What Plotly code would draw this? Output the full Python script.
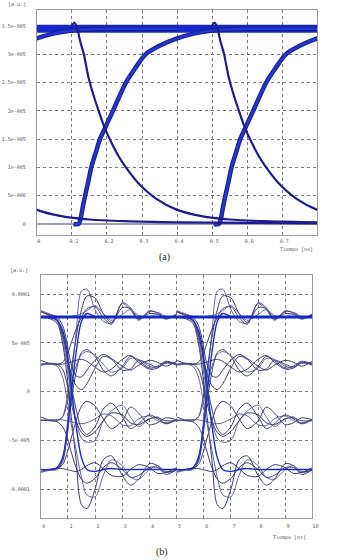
import numpy as np
import plotly.graph_objects as go

# ---------------- Chart (a): eye diagram, values in 1e-5 a.u. ----------------
a_period_offsets = [-0.4, 0.0, 0.4]          # ns, eye folding period 0.4 ns
a_fall_t = [0.095, 0.107, 0.115, 0.124, 0.134, 0.147, 0.163, 0.178, 0.194, 0.212,
            0.232, 0.254, 0.287, 0.34, 0.40, 0.47, 0.55, 0.65, 0.8, 1.0, 1.2]
a_fall_v = [3.45, 3.56, 3.46, 3.22, 3.0, 2.6, 2.25, 1.97, 1.69, 1.45,
            1.21, 1.0, 0.74, 0.45, 0.25, 0.14, 0.08, 0.05, 0.03, 0.02, 0.01]
a_rise_t = [0.105, 0.119, 0.125, 0.131, 0.138, 0.147, 0.156, 0.168, 0.18, 0.194,
            0.217, 0.235, 0.254, 0.28, 0.31, 0.35, 0.40, 0.45, 0.5, 0.6, 0.7, 0.8]
a_rise_v = [0.0, 0.0, 0.1, 0.3, 0.51, 0.76, 1.02, 1.26, 1.5, 1.69,
            2.0, 2.25, 2.5, 2.75, 3.0, 3.15, 3.28, 3.37, 3.42, 3.45, 3.45, 3.45]
a_high_t = [0.0, 0.8]
a_high_v = [3.45, 3.45]
a_scale = 1e-5
a_ytick_vals = [0, 5e-6, 1e-5, 1.5e-5, 2e-5, 2.5e-5, 3e-5, 3.5e-5]
a_ytick_text = ["0", "5e-006", "1e-005", "1.5e-005", "2e-005", "2.5e-005", "3e-005", "3.5e-005"]
a_xtick_vals = [0, 0.1, 0.2, 0.3, 0.4, 0.5, 0.6, 0.7]
a_xtick_text = ["0", "0.1", "0.2", "0.3", "0.4", "0.5", "0.6", "0.7"]

# ---------------- Chart (b): eye diagram, values in 1e-5 a.u. ----------------
b_period_offsets = [0.0, 5.0]                # ns, eye folding period 5 ns
b_t = [0.0, 0.3, 0.6, 0.8, 0.95, 1.1, 1.3, 1.5, 1.7, 2.0, 2.3, 2.6, 3.0, 3.3, 3.6, 4.0, 4.3, 4.6, 5.0]
b_scale = 1e-5
# arrivals at top level
b_BT_big = [-8.3, -8.1, -8.0, -7.0, -4.0, 0.5, 6.0, 10.3, 10.5, 8.4, 7.2, 7.0, 9.0, 8.4, 7.3, 8.3, 8.0, 7.4, 8.0]
b_DT = [-2.6, -2.9, -3.0, -2.6, -1.0, 1.8, 5.5, 8.4, 9.8, 9.6, 8.0, 7.1, 8.6, 8.5, 7.5, 8.0, 7.9, 7.6, 7.8]
b_UT = [3.2, 2.9, 2.8, 3.0, 3.6, 4.8, 6.4, 7.6, 8.5, 8.7, 7.6, 6.9, 9.1, 8.6, 7.4, 8.2, 8.1, 7.5, 7.9]
b_TT_ring = [8.3, 8.0, 7.7, 7.6, 7.6, 7.7, 7.8, 8.0, 8.3, 8.8, 8.0, 7.3, 7.9, 8.4, 7.8, 7.6, 8.1, 7.7, 7.6]
# arrivals at upper-middle level
b_TU = [7.7, 7.6, 7.3, 6.0, 4.0, 2.0, 0.6, 0.2, 0.8, 2.4, 3.6, 3.3, 2.2, 2.3, 3.2, 2.8, 2.5, 2.9, 2.8]
b_BU = [-8.0, -8.0, -7.9, -7.2, -5.0, -1.5, 2.0, 4.0, 4.3, 3.6, 2.2, 1.6, 2.6, 3.6, 3.2, 2.4, 2.6, 3.1, 2.8]
b_DU = [-3.0, -2.9, -2.9, -2.6, -1.5, 0.5, 2.6, 3.8, 4.1, 3.7, 2.8, 2.0, 2.4, 3.4, 3.3, 2.6, 2.5, 3.0, 2.9]
b_UU = [2.7, 2.8, 2.8, 2.8, 2.9, 3.0, 3.2, 3.3, 3.1, 2.5, 2.0, 2.3, 3.3, 3.7, 3.0, 2.3, 2.4, 3.0, 2.7]
b_TU2 = [8.2, 7.9, 7.6, 6.8, 5.2, 3.0, 1.6, 1.5, 2.2, 3.2, 3.8, 3.4, 2.6, 2.2, 2.7, 3.2, 3.0, 2.6, 3.1]
# arrivals at lower-middle level
b_TD = [7.6, 7.6, 7.2, 5.5, 3.0, 0.0, -3.0, -4.8, -5.2, -5.0, -3.0, -2.0, -1.4, -2.6, -3.6, -2.8, -2.6, -3.3, -2.9]
b_BD = [-8.0, -8.0, -7.9, -7.5, -6.5, -5.0, -3.0, -1.5, -1.0, -1.5, -2.8, -3.8, -3.0, -1.6, -2.2, -3.4, -3.2, -2.7, -2.9]
b_UD = [2.8, 2.9, 2.8, 2.3, 1.0, -1.0, -3.0, -4.2, -4.6, -4.1, -3.0, -2.2, -2.4, -3.2, -3.4, -2.8, -2.7, -3.0, -3.0]
b_DD = [-3.0, -2.9, -2.9, -2.9, -3.0, -3.1, -3.2, -3.3, -3.2, -2.8, -2.3, -2.5, -3.4, -3.5, -2.8, -2.5, -3.0, -3.2, -2.9]
b_TD2 = [8.2, 7.8, 7.4, 5.8, 3.8, 1.0, -1.8, -3.8, -4.4, -3.6, -1.8, -1.2, -2.6, -3.8, -3.3, -2.4, -2.8, -3.3, -2.8]
# arrivals at bottom level
b_TB_big = [7.6, 7.5, 7.0, 5.0, 2.0, -2.0, -7.0, -11.6, -12.0, -10.0, -7.0, -6.6, -8.6, -9.6, -9.0, -7.4, -7.6, -8.5, -8.0]
b_UB = [2.8, 2.8, 2.6, 1.5, -0.5, -3.0, -6.0, -8.8, -10.6, -10.8, -8.6, -7.0, -7.6, -8.8, -9.0, -8.0, -7.6, -8.2, -8.1]
b_DB = [-2.9, -3.0, -3.1, -3.6, -4.5, -6.0, -7.8, -9.0, -9.4, -8.9, -7.8, -7.3, -8.0, -8.8, -8.6, -7.8, -7.8, -8.3, -8.0]
b_BB = [-8.2, -8.0, -7.9, -7.9, -8.0, -8.1, -8.2, -8.0, -7.6, -7.3, -7.9, -8.6, -8.7, -8.0, -7.5, -7.8, -8.4, -8.3, -7.8]
# fast (blue) transitions
b_TB_fast = [7.65, 7.65, 7.3, 6.3, 4.5, 1.0, -3.5, -6.8, -8.0, -8.2, -8.0, -7.9, -8.0, -8.0, -8.0, -8.0, -8.0, -8.0, -8.0]
b_BT_fast = [-8.0, -8.0, -7.8, -6.8, -4.5, -0.8, 4.0, 7.2, 8.0, 7.7, 7.6, 7.7, 7.6, 7.65, 7.65, 7.65, 7.65, 7.65, 7.65]
b_high_t = [0.0, 10.0]
b_high_v = [7.65, 7.65]

b_thin_traces = [b_BT_big, b_DT, b_UT, b_TT_ring, b_TU, b_BU, b_DU, b_UU, b_TU2,
                 b_TD, b_BD, b_UD, b_DD, b_TD2, b_TB_big, b_UB, b_DB, b_BB]
b_blue_traces = [b_TB_fast, b_BT_fast]

b_ytick_vals = [-1e-4, -5e-5, 0, 5e-5, 1e-4]
b_ytick_text = ["-0.0001", "-5e-005", "0", "5e-005", "0.0001"]
b_xtick_vals = list(range(0, 11))
b_xtick_text = [str(v) for v in b_xtick_vals]

W, H = 343, 560
MONO = "DejaVu Sans Mono"

fig = go.Figure()

# ---- chart (a) traces ----
def add_a(x, y, color, width):
    fig.add_trace(go.Scatter(x=x, y=y, mode="lines", xaxis="x", yaxis="y",
                             line=dict(color=color, width=width, shape="spline", smoothing=0.8),
                             hoverinfo="skip", showlegend=False))

add_a(a_high_t, np.array(a_high_v) * a_scale, "#1628cc", 8)
for off in a_period_offsets:
    xs = np.array(a_rise_t) + off
    ys = np.array(a_rise_v) * a_scale
    add_a(xs, ys, "#1b1b8c", 4.5)
    add_a(xs, ys, "#2238cc", 2.5)
for off in a_period_offsets:
    add_a(np.array(a_fall_t) + off, np.array(a_fall_v) * a_scale, "#1c1c8e", 2.2)

# ---- chart (b) traces ----
def add_b(x, y, color, width):
    fig.add_trace(go.Scatter(x=x, y=y, mode="lines", xaxis="x2", yaxis="y2",
                             line=dict(color=color, width=width, shape="spline", smoothing=0.9),
                             hoverinfo="skip", showlegend=False))

for off in b_period_offsets:
    xs = np.array(b_t) + off
    for i, tr in enumerate(b_thin_traces):
        col = "#3a3a74" if i % 3 else "#6464a0"
        add_b(xs, np.array(tr) * b_scale, col, 1.0)
for off in b_period_offsets:
    xs = np.array(b_t) + off
    for tr in b_blue_traces:
        add_b(xs, np.array(tr) * b_scale, "#1a2ec4", 1.4)
add_b(b_high_t, np.array(b_high_v) * b_scale, "#1428c4", 3)

grid = dict(showgrid=True, gridcolor="#7a7a7a", gridwidth=1, griddash="dot",
            showline=True, mirror=True, linecolor="#9a9a9a", linewidth=1,
            ticks="", tickfont=dict(family=MONO, size=5, color="#555555"))

fig.update_layout(
    width=W, height=H, margin=dict(l=0, r=0, t=0, b=0),
    paper_bgcolor="white", plot_bgcolor="white",
    xaxis=dict(domain=[37.5 / W, 323 / W], range=[0, 0.8], tickvals=a_xtick_vals,
               ticktext=a_xtick_text, anchor="y", zeroline=False,
               ticklabelstandoff=1, ticklabelshift=2, **grid),
    yaxis=dict(domain=[1 - 235 / H, 1 - 10 / H], range=[-1.944e-6, 3.783e-5],
               tickvals=a_ytick_vals, ticktext=a_ytick_text, anchor="x",
               zeroline=True, zerolinecolor="#9c9cb4", zerolinewidth=1.5,
               ticklabelstandoff=9, **grid),
    xaxis2=dict(domain=[41.5 / W, 318 / W], range=[0, 10], tickvals=b_xtick_vals,
                ticktext=b_xtick_text, anchor="y2", zeroline=False,
                ticklabelstandoff=3, ticklabelshift=3, **grid),
    yaxis2=dict(domain=[1 - 518 / H, 1 - 275 / H], range=[-1.297e-4, 1.195e-4],
                tickvals=b_ytick_vals, ticktext=b_ytick_text, anchor="x2",
                zeroline=False, ticklabelstandoff=9, **grid),
)

small = dict(family=MONO, size=5, color="#555555")
ann = [
    dict(x=6 / W, y=1 - 4 / H, text="[a.u.]", xanchor="left", font=small),
    dict(x=321 / W, y=1 - 249 / H, text="Tiempo [ns]", xanchor="right", font=small),
    dict(x=167 / W, y=1 - 257 / H, text="(a)", xanchor="center",
         font=dict(family="Liberation Serif", size=10, color="#222222")),
    dict(x=8 / W, y=1 - 270 / H, text="[a.u.]", xanchor="left", font=small),
    dict(x=313 / W, y=1 - 537 / H, text="Tiempo [ns]", xanchor="right", font=small),
    dict(x=165 / W, y=1 - 552 / H, text="(b)", xanchor="center",
         font=dict(family="Liberation Serif", size=10, color="#222222")),
]
for a in ann:
    fig.add_annotation(xref="paper", yref="paper", yanchor="middle", showarrow=False, **a)

fig.write_html("out.html", config={"displayModeBar": False, "staticPlot": True},
               post_script="document.body.style.margin='0px';document.body.style.overflow='hidden';")
